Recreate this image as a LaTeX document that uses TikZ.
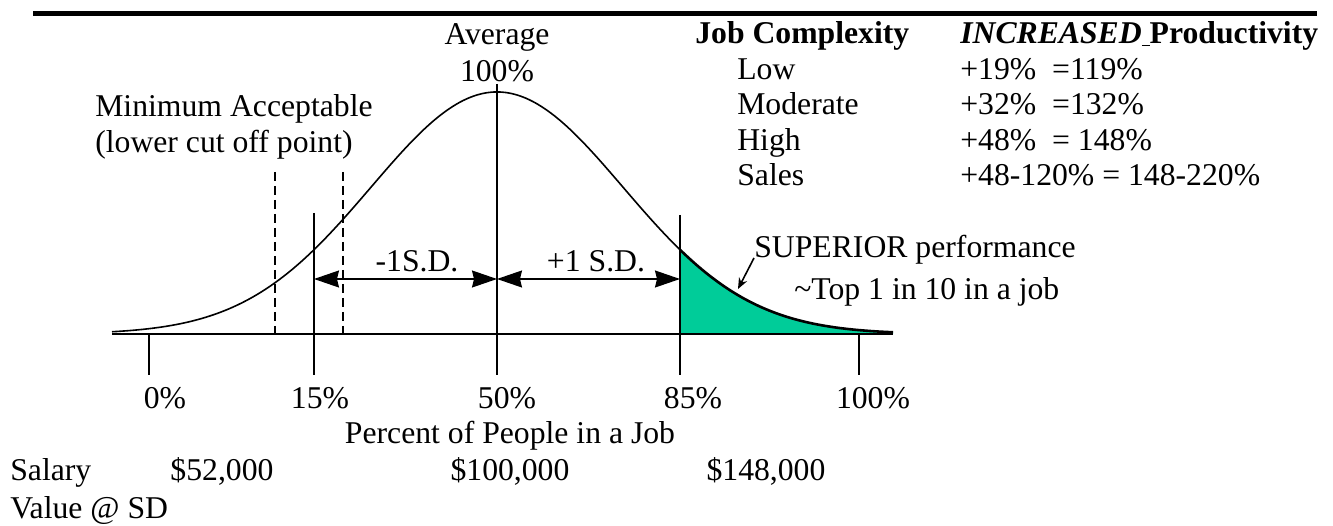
\documentclass[tikz,border=0pt]{standalone}
\usepackage{fontspec}
\setmainfont{Liberation Serif}
\usepackage{xcolor}
\usepackage{tikz}
\usetikzlibrary{arrows.meta}
\usetikzlibrary{calc}
\usetikzlibrary{positioning}
\definecolor{supergreen}{RGB}{0,204,153}

\begin{document}
\begin{tikzpicture}[x=1pt,y=-1pt,semithick]
	\tikzstyle{every node}=[inner sep=0pt, font=\fontsize{31.7}{36}\selectfont]
	\tikzstyle{lbl}=[anchor=base west]
	\tikzstyle{clbl}=[anchor=base]
	\tikzstyle{sdarrow}=[line width=1.3pt, {Stealth[length=25pt,width=17pt,inset=2pt]}-{Stealth[length=25pt,width=17pt,inset=2pt]}]
	\tikzstyle{ptr}=[line width=1.6pt, -{Stealth[length=11pt,width=9pt]}]
	\tikzstyle{cutoff}=[line width=1.6pt, dash pattern=on 9pt off 5pt]
	\tikzstyle{tick}=[line width=1.4pt]
	\tikzstyle{bell}=[line width=1.6pt]
	\useasboundingbox (0,0) rectangle (1333,526);

	\draw[line width=5.5pt] (33,13.5) -- (1317,13.5);

	\fill[supergreen] plot[domain=680:893, samples=80] (\x, {334-242*exp(-((\x-497)/126)^2/2)}) -- (893,334) -- (680,334) -- cycle;
	\draw[bell] plot[domain=112:680, samples=200] (\x, {334-242*exp(-((\x-497)/126)^2/2)});
	\draw[bell, line width=2.6pt] plot[domain=680:893, samples=80] (\x, {334-242*exp(-((\x-497)/126)^2/2)});

	\coordinate (axl) at (112,334);
	\coordinate (axr) at (893,334);
	\draw[line width=2.2pt] (axl) -- (axr);

		\foreach \xx/\ytop in {149/334, 314/213, 497/84, 680/215, 859/334}{
			\draw[tick] (\xx,\ytop) -- (\xx,375);
			}
		\foreach \xx in {275, 343}{
			\draw[cutoff] (\xx,172) -- (\xx,334);
			}

	\coordinate (a15) at (314,279);
	\coordinate (a50) at (497,279);
	\coordinate (a85) at (680,279);
	\draw[sdarrow] (a15) -- (a50);
	\draw[sdarrow] (a50) -- (a85);
	\node[clbl] (minussd) at (417,272) {-1S.D.};
	\node[clbl] (plussd) at (596,272) {+1 S.D.};

	\node[clbl] (avg) at (497,45) {Average};
	\node[clbl] (avgpct) at (497,82) {100\%};
	\node[lbl] (minacc) at (95,117) {Minimum Acceptable};
	\node[lbl] (lowcut) at (95,153) {(lower cut off point)};

	\node[lbl] (jobc) at (695,44) {\textbf{Job Complexity}};
	\node[lbl] (incr) at (960,44) {\textbf{\textit{INCREASED}\underline{\ }Productivity}};
		\foreach \cname/\pval [count=\i] in {Low/{+19\%\ \ =119\%}, Moderate/{+32\%\ \ =132\%}, High/{+48\%\ \ = 148\%}, Sales/{+48-120\% = 148-220\%}}{
			\node[lbl] (cx\i) at (737,{44+35.5*\i}) {\cname};
			\node[lbl] (pv\i) at (960,{44+35.5*\i}) {\pval};
			}

	\node[lbl] (superior) at (754,258) {SUPERIOR performance};
	\node[lbl] (topten) at (794,300) {\textasciitilde Top 1 in 10 in a job};
	\coordinate (suptip) at (738,289);
	\draw[ptr] (superior.base west) -- (suptip);

		\foreach \xx/\pct [count=\i] in {165/0, 320/15, 507/50, 693/85, 873/100}{
			\node[clbl] (pct\i) at (\xx,408) {\pct\%};
			}
	\node[clbl] (pctpeople) at (510,443) {Percent of People in a Job};

	\node[lbl] (salary) at (10,480) {Salary};
	\node[clbl] (sal1) at (222,480) {\$52,000};
	\node[clbl] (sal2) at (510,480) {\$100,000};
	\node[clbl] (sal3) at (766,480) {\$148,000};
	\node[lbl] (valsd) at (10,518) {Value @ SD};
\end{tikzpicture}
\end{document}
